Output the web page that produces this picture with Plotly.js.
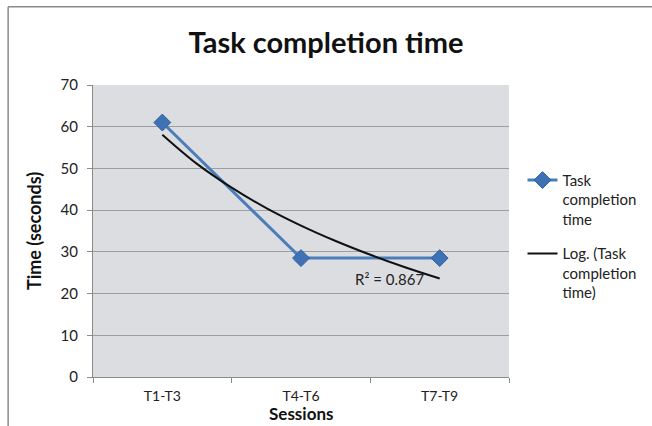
<!DOCTYPE html>
<html>
<head>
<meta charset="utf-8">
<script src="https://cdn.plot.ly/plotly-3.0.1.min.js"></script>
<style>html,body{margin:0;padding:0;background:#fff;}#chart{width:652px;height:426px;}</style>
</head>
<body>
<div id="chart"></div>
<script>
const categories = ["T1-T3", "T4-T6", "T7-T9"];
const sessionPos = [1, 2, 3];
const completionTime = [61, 28.5, 28.5];
const trendX = [1, 1.25, 1.5, 1.75, 2, 2.25, 2.5, 2.75, 3];
const trendY = [58.1, 51.1, 45.4, 40.5, 36.3, 32.6, 29.3, 26.3, 23.6];
const rSquaredText = "R² = 0.867";
const yTicks = [0, 10, 20, 30, 40, 50, 60, 70];

const FONT = "Lato, 'Open Sans', sans-serif";

const traces = [
  {
    x: sessionPos, y: completionTime, type: "scatter", mode: "lines+markers",
    name: "Task<br>completion<br>time", legendgroup: "a",
    line: {color: "#4a7ebb", width: 3},
    marker: {symbol: "diamond", size: 13, color: "#3f72b5", line: {color: "#2f5f9e", width: 1}}
  },
  {
    x: trendX, y: trendY, type: "scatter", mode: "lines",
    name: "Log. (Task<br>completion<br>time)", legendgroup: "b",
    line: {color: "#111111", width: 2, shape: "spline"}
  }
];

const layout = {
  width: 652, height: 426,
  margin: {l: 93, r: 142, t: 85, b: 49},
  paper_bgcolor: "#ffffff",
  plot_bgcolor: "#dcdde0",
  font: {family: FONT, size: 15, color: "#222"},
  title: {text: "<b>Task completion time</b>", font: {family: FONT, size: 29, color: "#111"}, x: 0.5, xanchor: "center", y: 0.9, yanchor: "middle"},
  showlegend: true,
  legend: {x: 1.03, y: 0.73, xanchor: "left", yanchor: "top", valign: "top", bgcolor: "rgba(0,0,0,0)", font: {family: FONT, size: 15, color: "#222"}, tracegroupgap: 12, itemwidth: 30},
  xaxis: {
    range: [0.5, 3.5], tickvals: sessionPos, ticktext: categories,
    ticks: "", showgrid: false, zeroline: false,
    showline: true, linecolor: "#8a8a8a", linewidth: 1,
    tickfont: {family: FONT, size: 14, color: "#222"},
    ticklabelstandoff: 6,
    minor: {tick0: 0.5, dtick: 1, ticks: "outside", ticklen: 5, tickcolor: "#8a8a8a", showgrid: false},
    title: {text: "", font: {family: FONT, size: 17, color: "#111"}},
    fixedrange: true
  },
  yaxis: {
    range: [0, 70], tickvals: yTicks, ticks: "outside", ticklen: 5, tickcolor: "#8a8a8a",
    showgrid: true, gridcolor: "#9e9e9e", gridwidth: 1, zeroline: false,
    showline: true, linecolor: "#8a8a8a", linewidth: 1,
    tickfont: {family: FONT, size: 15, color: "#222"},
    ticklabelstandoff: 6,
    title: {text: "<b>Time (seconds)</b>", font: {family: FONT, size: 18, color: "#111"}, standoff: 14},
    fixedrange: true
  },
  annotations: [
    {x: 2.64, y: 23.4, xref: "x", yref: "y", text: rSquaredText, showarrow: false, font: {family: FONT, size: 15, color: "#222"}},
    {x: 0.5, y: -49 / 292, xref: "paper", yref: "paper", yanchor: "bottom", xanchor: "center", text: "<b>Sessions</b>", showarrow: false, font: {family: FONT, size: 17, color: "#111"}}
  ],
  shapes: [
    {type: "line", xref: "paper", yref: "paper", x0: -0.204, x1: 1.4, y0: 1.268, y1: 1.268, line: {color: "#8a8a8a", width: 1.5}},
    {type: "line", xref: "paper", yref: "paper", x0: -0.204, x1: -0.204, y0: 1.268, y1: -0.2, line: {color: "#8a8a8a", width: 1.5}}
  ]
};

Plotly.newPlot("chart", traces, layout, {displayModeBar: false, staticPlot: true});
</script>
</body>
</html>
